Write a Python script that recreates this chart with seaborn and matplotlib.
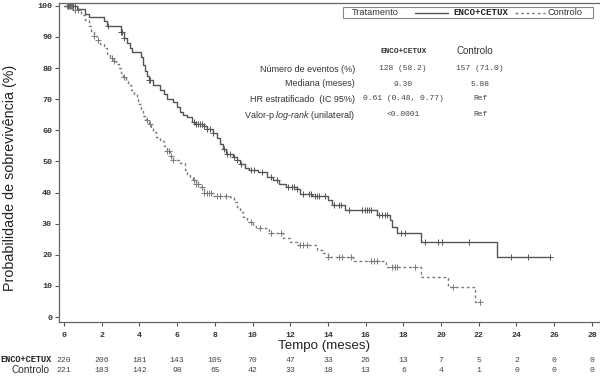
import numpy as np
import pandas as pd
import matplotlib
matplotlib.use("Agg")
import matplotlib.pyplot as plt
import seaborn as sns
from matplotlib.patches import Rectangle
from matplotlib.lines import Line2D

# ---------------- data ----------------
enco_t = [0, 0.7, 1.1, 1.3, 2.1, 2.3, 3.0, 3.2, 3.35, 3.5, 3.6, 4.1, 4.2, 4.3, 4.4, 4.5, 4.7,
          5.1, 5.3, 5.45, 5.8, 6.0, 6.15, 6.3, 6.5, 6.8, 6.95, 7.4, 7.6, 7.9, 8.1, 8.3, 8.45,
          8.6, 8.97, 9.2, 9.35, 9.6, 9.8, 10.3, 10.75, 11.1, 11.4, 11.8, 12.35, 12.5, 13.15,
          14.0, 14.2, 14.9, 16.6, 17.3, 17.4, 17.65, 18.95, 22.97, 25.8]
enco_s = [100, 99.1, 97.5, 96.3, 95.0, 93.4, 91.5, 89.5, 88.0, 86.5, 85.3, 83.4, 81.0, 79.0,
          77.5, 76.0, 74.4, 72.8, 71.5, 70.2, 69.0, 67.5, 66.0, 65.0, 64.2, 62.8, 62.1, 61.5,
          60.5, 59.0, 57.5, 55.7, 54.0, 52.5, 51.3, 50.3, 49.3, 48.0, 47.1, 46.5, 45.0, 44.0,
          42.8, 41.8, 41.0, 39.5, 38.8, 37.5, 35.9, 34.3, 32.7, 31.1, 28.9, 26.9, 24.0, 19.2,
          19.2]
enco_cens = [0.2, 0.3, 0.4, 0.5, 0.6, 2.35, 3.0, 3.1, 3.2, 4.5, 4.55, 6.9, 7.0, 7.1, 7.2, 7.3,
             7.45, 7.6, 7.75, 7.9, 8.5, 8.65, 8.8, 9.0, 9.2, 9.4, 9.9, 10.1, 10.5, 11.0, 11.3,
             11.9, 12.1, 12.2, 12.35, 12.7, 13.0, 13.1, 13.3, 13.4, 13.5, 13.85, 14.3, 14.6,
             14.7, 15.1, 15.8, 15.95, 16.05, 16.2, 16.3, 16.7, 16.85, 17.0, 17.15, 17.85, 18.1,
             19.15, 19.85, 20.05, 21.5, 23.7, 24.6, 25.8]

ctrl_t = [0, 0.5, 0.9, 1.1, 1.3, 1.45, 1.6, 1.75, 1.9, 2.1, 2.3, 2.45, 2.6, 2.75, 2.9, 3.05,
          3.15, 3.3, 3.4, 3.55, 3.7, 3.85, 3.95, 4.1, 4.2, 4.35, 4.5, 4.6, 4.7, 4.9, 5.1, 5.3,
          5.45, 5.6, 5.8, 6.15, 6.4, 6.55, 6.7, 6.85, 7.0, 7.2, 7.4, 7.9, 8.8, 9.0, 9.2, 9.35,
          9.5, 9.7, 10.0, 10.2, 10.9, 11.6, 12.0, 12.35, 13.4, 13.75, 14.0, 15.35, 17.1,
          18.95, 20.35, 21.8, 22.05]
ctrl_s = [100, 98.5, 97.0, 95.5, 93.5, 92.0, 90.2, 89.0, 87.8, 86.3, 84.6, 83.3, 82.4, 81.2,
          80.1, 78.5, 77.0, 75.7, 74.4, 73.0, 71.8, 70.2, 68.6, 66.5, 64.7, 63.3, 62.1, 60.7,
          59.3, 58.0, 56.7, 55.0, 53.5, 51.8, 50.3, 49.4, 47.2, 46.0, 45.0, 43.9, 42.8, 41.7,
          40.0, 39.0, 38.5, 36.9, 35.2, 33.6, 32.0, 30.4, 29.4, 28.5, 26.9, 25.3, 24.2, 23.2,
          21.5, 20.5, 19.2, 17.9, 16.0, 12.8, 9.6, 4.8, 4.8]
ctrl_cens = [0.15, 0.25, 0.35, 0.45, 0.6, 0.75, 1.6, 1.8, 2.55, 2.65, 3.2, 4.4, 4.55, 5.45,
             5.55, 5.7, 5.8, 6.9, 7.0, 7.1, 7.3, 7.45, 7.6, 7.7, 7.8, 8.1, 8.3, 8.6, 9.9, 10.4,
             11.0, 11.5, 12.5, 12.7, 12.9, 14.0, 14.6, 14.75, 15.2, 16.3, 16.45, 16.6, 17.4,
             17.55, 17.65, 18.6, 20.65, 22.05]

risk_times = [0, 2, 4, 6, 8, 10, 12, 14, 16, 18, 20, 22, 24, 26, 28]
risk_enco = [220, 206, 181, 143, 105, 70, 47, 33, 26, 13, 7, 5, 2, 0, 0]
risk_ctrl = [221, 183, 142, 98, 65, 42, 33, 18, 13, 6, 4, 1, 0, 0, 0]

y_ticks = [0, 10, 20, 30, 40, 50, 60, 70, 80, 90, 100]

group_enco = "ENCO+CETUX"
group_ctrl = "Controlo"

tbl_rows = ["Número de eventos (%)", "Mediana (meses)", "HR estratificado  (IC 95%)",
            "Valor-p $\\it{log}$-$\\it{rank}$ (unilateral)"]
tbl_enco = ["128 (58.2)", "9.30", "0.61 (0.48, 0.77)", "<0.0001"]
tbl_ctrl = ["157 (71.0)", "5.88", "Ref", "Ref"]

# ---------------- style ----------------
sns.set_theme(style="white")
plt.rcParams['font.family'] = ['Liberation Sans', 'DejaVu Sans']
plt.rcParams['mathtext.fontset'] = 'custom'
plt.rcParams['mathtext.it'] = 'Liberation Sans:italic'
plt.rcParams['mathtext.rm'] = 'Liberation Sans'

W, H = 600, 376
fig = plt.figure(figsize=(6.0, 3.76), dpi=100)

def fx(px):
    return px / W

def fy(py):
    return 1 - py / H

ax = fig.add_axes([fx(59), fy(322), fx(600) - fx(59), fy(3) - fy(322)])

col_enco = "#555555"
col_ctrl = "#7a7a7a"

def surv_at(ts, ss, c):
    ts = np.asarray(ts); ss = np.asarray(ss)
    i = np.searchsorted(ts, np.asarray(c), side='right') - 1
    return ss[i]

df_e = pd.DataFrame({"t": enco_t, "s": enco_s})
df_c = pd.DataFrame({"t": ctrl_t, "s": ctrl_s})
sns.lineplot(data=df_e, x="t", y="s", drawstyle="steps-post", estimator=None, sort=False,
             color=col_enco, linewidth=1.0, ax=ax)
sns.lineplot(data=df_c, x="t", y="s", drawstyle="steps-post", estimator=None, sort=False,
             color=col_ctrl, linewidth=1.0, linestyle=(0, (2.0, 2.0)), ax=ax)

ce = pd.DataFrame({"t": enco_cens, "s": surv_at(enco_t, enco_s, enco_cens)})
cc = pd.DataFrame({"t": ctrl_cens, "s": surv_at(ctrl_t, ctrl_s, ctrl_cens)})
sns.scatterplot(data=ce, x="t", y="s", marker="+", s=20, color=col_enco, linewidth=0.7, ax=ax)
sns.scatterplot(data=cc, x="t", y="s", marker="+", s=20, color=col_ctrl, linewidth=0.7, ax=ax)

ax.set_xlim(-0.265, 28.43)
ax.set_ylim(-1.6, 100.9)
ax.set_xticks(risk_times)
ax.set_yticks(y_ticks)
ax.set_xticklabels([str(v) for v in risk_times], family='Liberation Mono', fontweight='bold',
                   fontsize=5.9, color="#333333")
ax.set_yticklabels([str(v) for v in y_ticks], family='Liberation Mono', fontweight='bold',
                   fontsize=6.0, color="#333333")
ax.tick_params(axis='both', which='both', direction='out', length=3, width=0.8,
               color="#555555", pad=2, bottom=True, left=True)
ax.tick_params(axis='x', pad=4)
for side in ['left', 'bottom', 'top']:
    ax.spines[side].set_color("#666666")
    ax.spines[side].set_linewidth(0.9)
ax.spines['right'].set_visible(False)
ax.set_xlabel("")
ax.set_ylabel("")

fig.text(fx(10), fy(178), "Probabilidade de sobrevivência (%)", rotation=90,
         ha='center', va='center', fontsize=10.3, color="#222222")
fig.text(fx(324), fy(346.5), "Tempo (meses)", ha='center', va='center', fontsize=9.6,
         color="#222222")

# risk table
trans = matplotlib.transforms.blended_transform_factory(ax.transData, fig.transFigure)
for t, ne, nc in zip(risk_times, risk_enco, risk_ctrl):
    ax.text(t, fy(360), str(ne), transform=trans, ha='center', va='center',
            family='Liberation Mono', fontsize=5.9, color="#444444", clip_on=False)
    ax.text(t, fy(370.5), str(nc), transform=trans, ha='center', va='center',
            family='Liberation Mono', fontsize=5.9, color="#444444", clip_on=False)
fig.text(fx(52), fy(360), group_enco, ha='right', va='center', family='Liberation Mono',
         fontweight='bold', fontsize=6.2, color="#222222")
fig.text(fx(49), fy(370), group_ctrl, ha='right', va='center', fontsize=7.3, color="#333333")

# legend box
fig.patches.append(Rectangle((fx(343), fy(18)), fx(593) - fx(343), fy(7) - fy(18),
                             transform=fig.transFigure, fill=False, edgecolor="#888888",
                             linewidth=0.8))
fig.text(fx(352), fy(12.8), "Tratamento", ha='left', va='center', fontsize=6.6, color="#333333")
fig.lines.append(Line2D([fx(415), fx(448)], [fy(12.5), fy(12.5)], transform=fig.transFigure,
                        color=col_enco, linewidth=1.0))
fig.text(fx(453), fy(12.5), group_enco, ha='left', va='center', family='Liberation Mono',
         fontweight='bold', fontsize=6.6, color="#222222")
fig.lines.append(Line2D([fx(515), fx(545)], [fy(12.5), fy(12.5)], transform=fig.transFigure,
                        color=col_ctrl, linewidth=1.0, linestyle=(0, (2.0, 2.0))))
fig.text(fx(547), fy(12.8), group_ctrl, ha='left', va='center', fontsize=6.6, color="#333333")

# stats table
fig.text(fx(404), fy(51.5), group_enco, ha='center', va='center', family='Liberation Mono',
         fontweight='bold', fontsize=5.6, color="#333333")
fig.text(fx(475), fy(50.5), group_ctrl, ha='center', va='center', fontsize=7.0, color="#333333")
row_y = [69, 84, 99, 115]
for yy, lab, ve, vc in zip(row_y, tbl_rows, tbl_enco, tbl_ctrl):
    fig.text(fx(355), fy(yy), lab, ha='right', va='center', fontsize=6.5, color="#333333")
    fig.text(fx(403), fy(yy), ve, ha='center', va='center', family='Liberation Mono',
             fontsize=5.8, color="#444444")
    fig.text(fx(480), fy(yy), vc, ha='center', va='center', family='Liberation Mono',
             fontsize=5.8, color="#444444")

fig.savefig("out.png", dpi=100)
